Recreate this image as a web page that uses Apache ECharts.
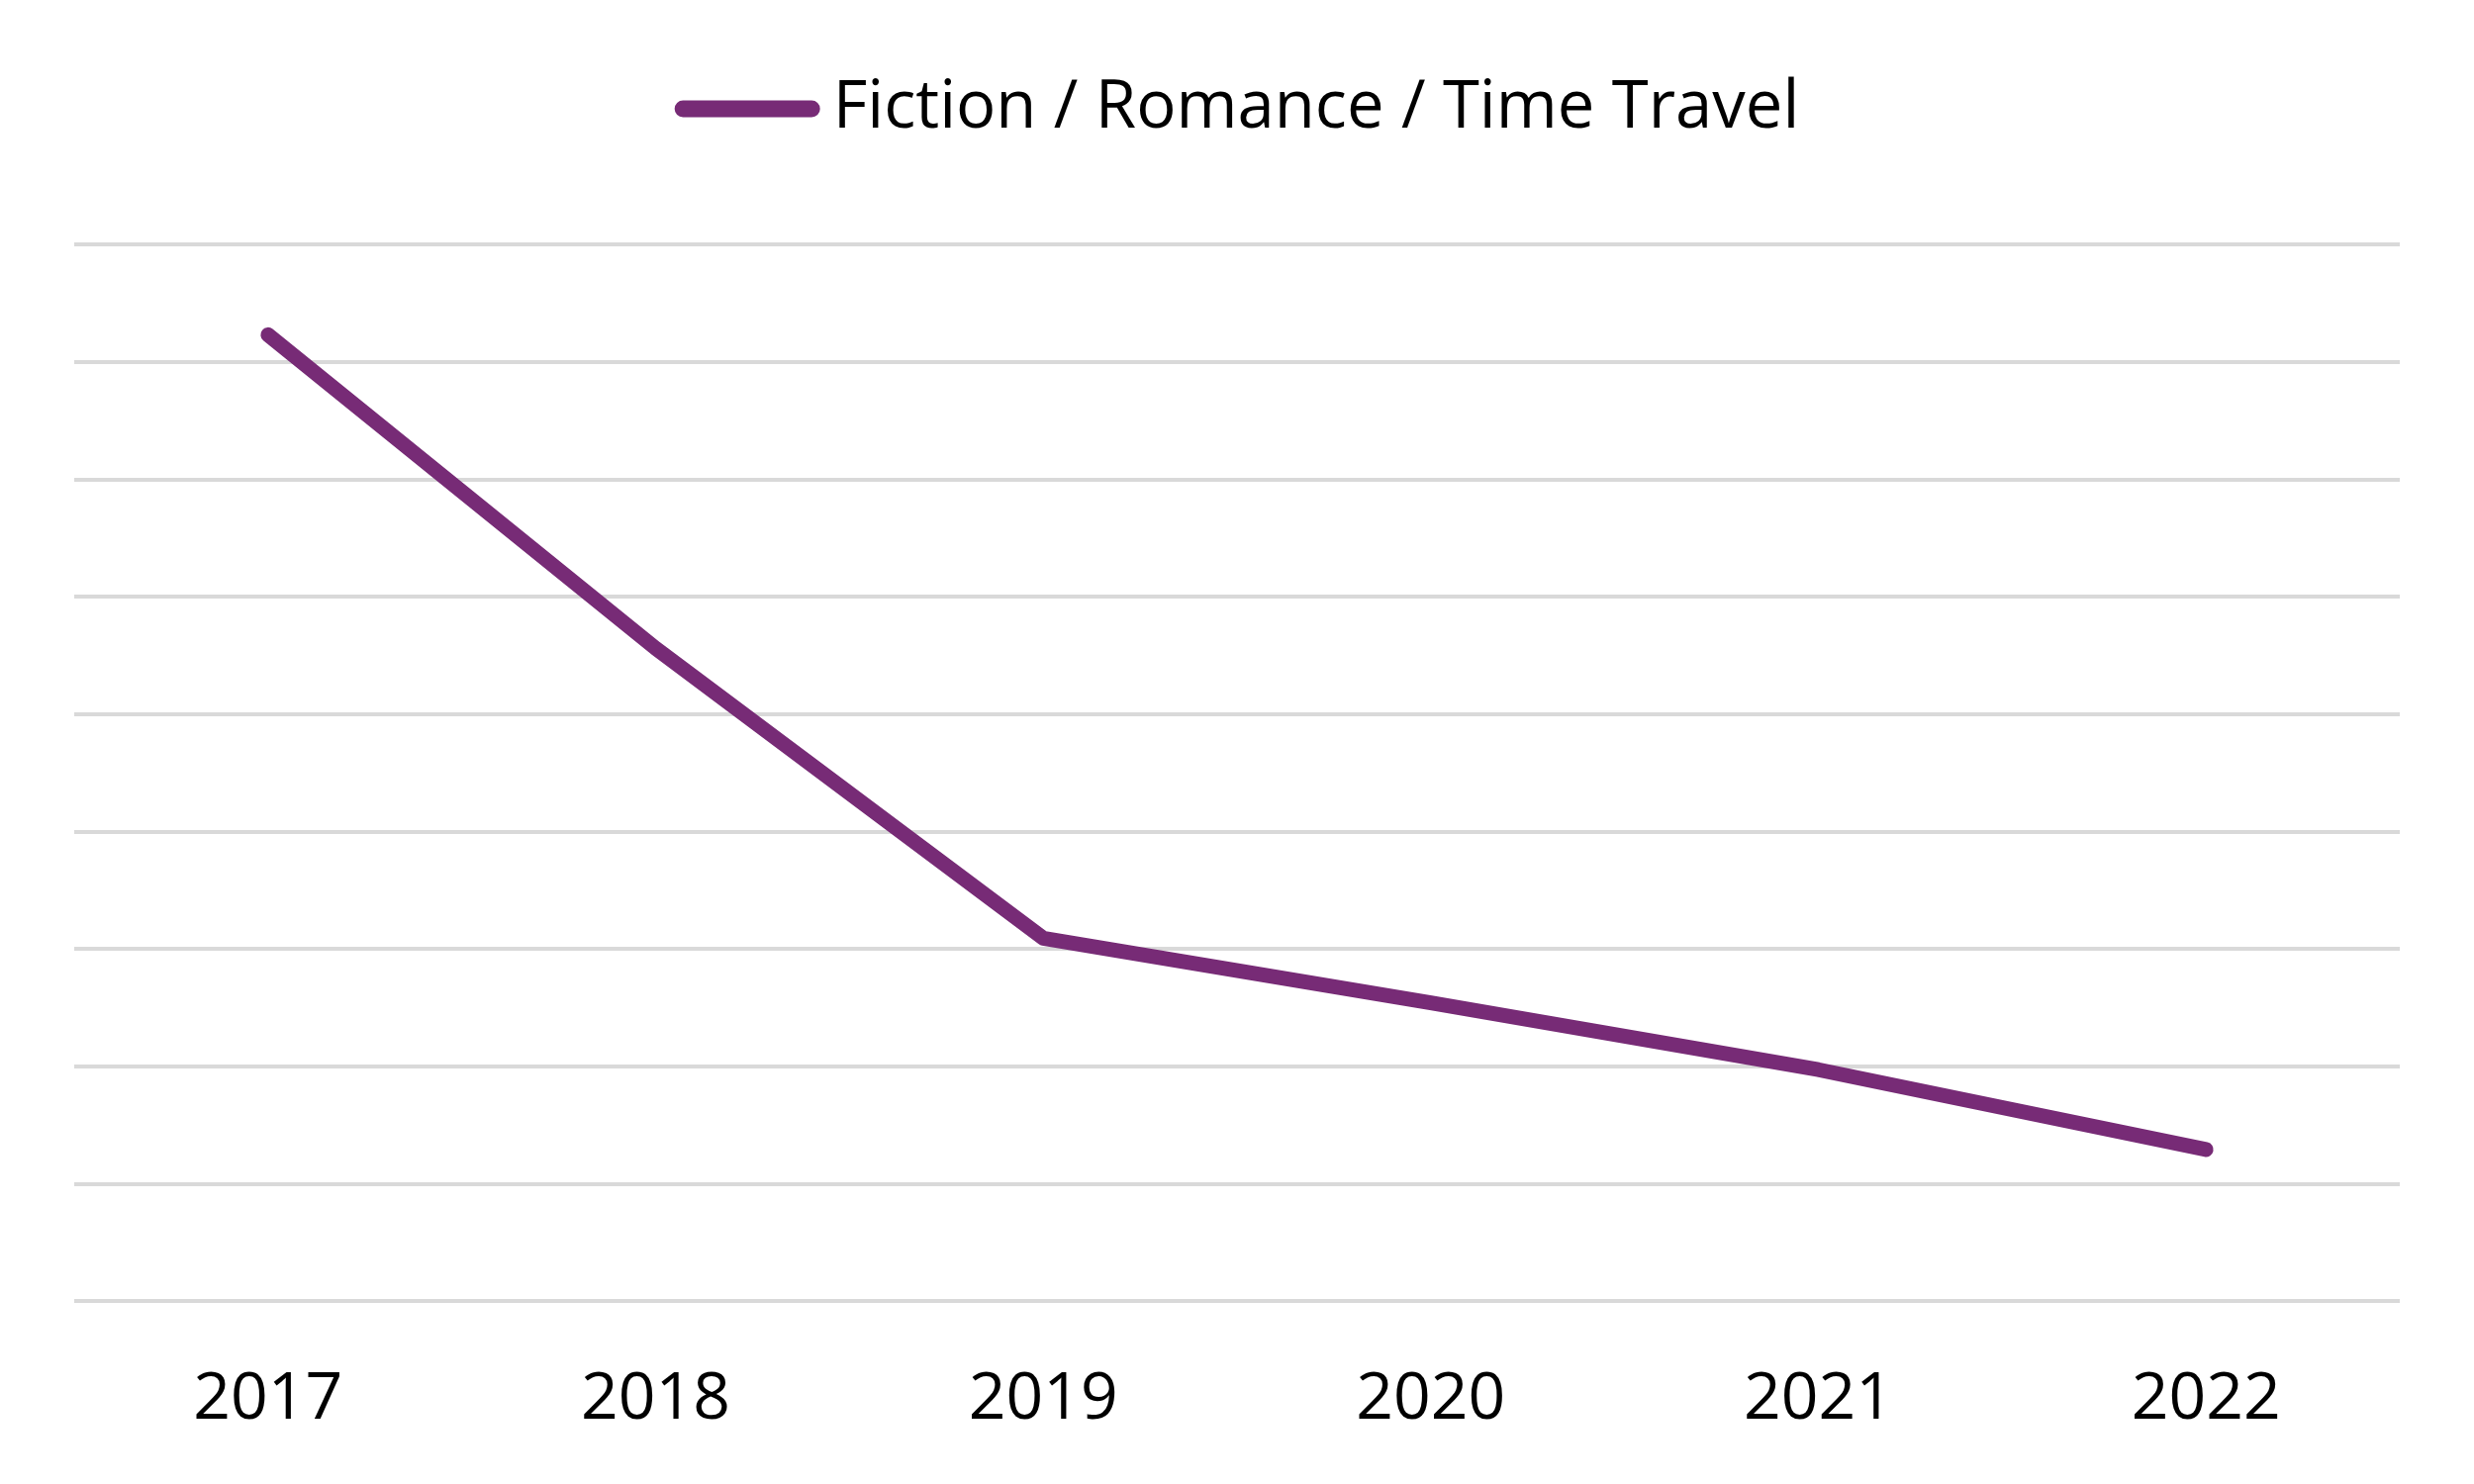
<!DOCTYPE html>
<html>
<head>
<meta charset="utf-8">
<style>
  html, body { margin: 0; padding: 0; background: #ffffff; }
  #chart { width: 2500px; height: 1500px; }
</style>
<script src="https://cdn.jsdelivr.net/npm/echarts@6/dist/echarts.min.js"></script>
</head>
<body>
<div id="chart"></div>
<script>
const categories = ['2017', '2018', '2019', '2020', '2021', '2022'];
const seriesName = 'Fiction / Romance / Time Travel';
const values = [8.23, 5.56, 3.09, 2.54, 1.97, 1.29];
const yMin = 0;
const yMax = 9;
const yInterval = 1;

const chart = echarts.init(document.getElementById('chart'));
chart.setOption({
  backgroundColor: '#ffffff',
  animation: false,
  legend: {
    show: true,
    left: 'center',
    top: 65,
    itemWidth: 147,
    itemHeight: 17,
    icon: 'path://M8.5,0 L138.5,0 A8.5,8.5 0 0 1 138.5,17 L8.5,17 A8.5,8.5 0 0 1 8.5,0 Z',
    itemStyle: { color: '#772B76' },
    textStyle: {
      fontFamily: 'Open Sans',
      fontSize: 67,
      color: '#000000',
      lineHeight: 80,
      padding: [0, 0, 0, 8]
    },
    data: [seriesName]
  },
  grid: { left: 75, right: 75, top: 247, bottom: 185, containLabel: false },
  xAxis: {
    type: 'category',
    data: categories,
    boundaryGap: true,
    axisLine: { show: false },
    axisTick: { show: false },
    axisLabel: {
      margin: 67,
      fontFamily: 'Open Sans',
      fontSize: 66,
      color: '#000000'
    },
    splitLine: { show: false }
  },
  yAxis: {
    type: 'value',
    min: yMin,
    max: yMax,
    interval: yInterval,
    axisLine: { show: false },
    axisTick: { show: false },
    axisLabel: { show: false },
    splitLine: { show: true, lineStyle: { color: '#d9d9d9', width: 4 } }
  },
  series: [{
    name: seriesName,
    type: 'line',
    data: values,
    showSymbol: false,
    symbol: 'none',
    smooth: false,
    itemStyle: { color: '#772B76' },
    lineStyle: { color: '#772B76', width: 15, cap: 'round', join: 'round' }
  }]
});
</script>
</body>
</html>
